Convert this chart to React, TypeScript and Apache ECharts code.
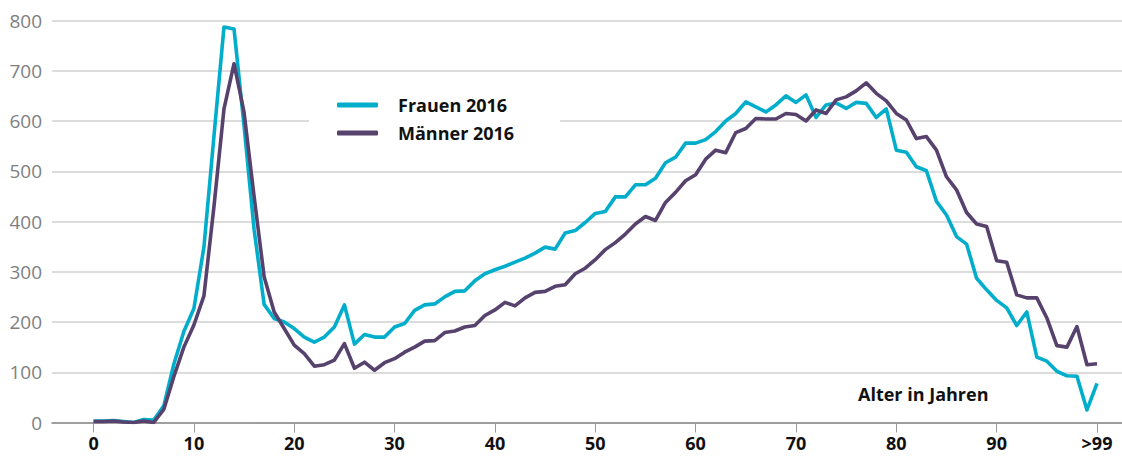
import React, { useEffect, useRef } from "react";
import * as echarts from "echarts";

// Alter 0..99 und ">99" (Index 100)
const ages: number[] = Array.from({ length: 101 }, (_, i) => i);
const xTickValues = [0, 10, 20, 30, 40, 50, 60, 70, 80, 90, 100];
const xTickLabels = ["0", "10", "20", "30", "40", "50", "60", "70", "80", "90", ">99"];

const frauen2016 = [
  3, 3, 4, 2, 0, 6, 5, 33, 116, 181,
  227, 349, 570, 787, 783, 590, 384, 235, 207, 200,
  187, 170, 160, 170, 190, 234, 156, 175, 170, 170,
  190, 197, 223, 234, 236, 250, 261, 262, 282, 296,
  304, 311, 319, 327, 337, 349, 345, 377, 382, 398,
  416, 420, 449, 449, 473, 473, 486, 517, 528, 556,
  556, 563, 579, 600, 615, 638, 628, 618, 632, 650,
  637, 652, 607, 632, 636, 625, 637, 635, 607, 624,
  542, 538, 509, 501, 440, 413, 370, 355, 287, 264,
  243, 228, 193, 220, 130, 122, 102, 93, 92, 25,
  78,
];

const maenner2016 = [
  2, 2, 3, 1, 0, 3, 0, 26, 91, 150,
  194, 252, 430, 624, 714, 617, 450, 290, 220, 187,
  154, 137, 112, 115, 124, 157, 108, 120, 104, 119,
  127, 140, 150, 162, 163, 179, 182, 190, 193, 213,
  224, 239, 232, 248, 259, 261, 271, 274, 296, 307,
  324, 344, 358, 375, 395, 410, 402, 438, 458, 481,
  493, 524, 542, 537, 577, 585, 605, 604, 604, 615,
  613, 600, 622, 615, 642, 648, 660, 676, 655, 640,
  615, 602, 565, 569, 542, 489, 463, 418, 395, 390,
  322, 319, 254, 248, 248, 208, 153, 150, 191, 115,
  117,
];

const seriesNames = ["Frauen 2016", "Männer 2016"];
const seriesColors = ["#00aecb", "#57426e"];
const axisTitle = "Alter in Jahren";

const FONT = '"Open Sans", "Noto Sans", sans-serif';

export default function App() {
  const ref = useRef<HTMLDivElement>(null);

  useEffect(() => {
    if (!ref.current) return;
    const chart = echarts.init(ref.current, null, { renderer: "svg" });
    const toPairs = (vals: number[]) => ages.map((a, i) => [a, vals[i]]);
    chart.setOption({
      animation: false,
      backgroundColor: "#ffffff",
      grid: { left: 52, right: 0, top: 20.5, bottom: 34.5, containLabel: false },
      legend: {
        data: seriesNames,
        orient: "vertical",
        left: 309,
        top: 84,
        backgroundColor: "#ffffff",
        padding: [12, 46, 12, 28],
        itemWidth: 41,
        itemHeight: 5,
        itemGap: 10,
        icon: "roundRect",
        textStyle: {
          fontFamily: FONT,
          fontSize: 18,
          fontWeight: "bold",
          color: "#111111",
          padding: [0, 0, 0, 15],
        },
      },
      xAxis: {
        type: "value",
        min: -4.14,
        max: 102.49,
        axisLine: { show: true, lineStyle: { color: "#8a8a8a", width: 1.5 } },
        axisTick: {
          show: true,
          customValues: xTickValues,
          length: 10,
          lineStyle: { color: "#9a9a9a", width: 1 },
        },
        axisLabel: {
          customValues: xTickValues,
          margin: 13,
          fontFamily: FONT,
          fontSize: 18,
          lineHeight: 15,
          fontWeight: "bold",
          color: "#111111",
          formatter: (v: number) => {
            const idx = xTickValues.indexOf(Math.round(v));
            return idx >= 0 ? xTickLabels[idx] : "";
          },
        },
        splitLine: { show: false },
      },
      yAxis: {
        type: "value",
        min: 0,
        max: 800,
        interval: 100,
        axisLine: { show: false },
        axisTick: { show: false },
        axisLabel: {
          margin: 10,
          fontFamily: FONT,
          fontSize: 19,
          color: "#7f7f7f",
        },
        splitLine: { lineStyle: { color: "#d0d0d0", width: 1.5 } },
      },
      graphic: [
        {
          type: "text",
          left: 858,
          top: 385,
          style: {
            text: axisTitle,
            fontFamily: FONT,
            fontSize: 18,
            fontWeight: "bold",
            fill: "#111111",
          },
        },
      ],
      series: [
        {
          name: seriesNames[0],
          type: "line",
          data: toPairs(frauen2016),
          symbol: "none",
          color: seriesColors[0],
          lineStyle: { width: 3.6, color: seriesColors[0], join: "round" },
          z: 2,
        },
        {
          name: seriesNames[1],
          type: "line",
          data: toPairs(maenner2016),
          symbol: "none",
          color: seriesColors[1],
          lineStyle: { width: 3.6, color: seriesColors[1], join: "round" },
          z: 3,
        },
      ],
    });
    return () => chart.dispose();
  }, []);

  return (
    <div
      ref={ref}
      style={{ position: "absolute", left: 0, top: 0, width: 1122, height: 457 }}
    />
  );
}
